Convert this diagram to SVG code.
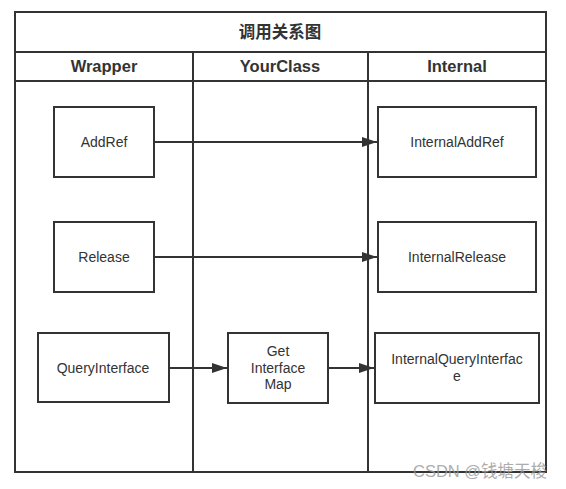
<svg xmlns="http://www.w3.org/2000/svg" width="566" height="489" viewBox="0 0 566 489">
<style>
.ln{stroke:#333;stroke-width:2;fill:none}
.box{stroke:#333;stroke-width:2;fill:#fff}
.hd{font-family:"Liberation Sans",Arial,sans-serif;font-weight:bold;font-size:16.5px;fill:#333;text-anchor:middle}
.tt{font-family:"Noto Sans CJK SC",sans-serif;font-weight:bold;font-size:16.5px;fill:#333;text-anchor:middle}
.lb{font-family:"Liberation Sans",Arial,sans-serif;font-size:14px;fill:#333;text-anchor:middle}
.wm{font-family:"Liberation Sans","Noto Sans CJK SC",sans-serif;font-size:16.5px;fill:#999;opacity:0.8}
</style>
<defs>
<marker id="ah" markerWidth="15" markerHeight="10" refX="15" refY="5" orient="auto" markerUnits="userSpaceOnUse">
<path d="M0,0 L15,5 L0,10 Z" fill="#333"/>
</marker>
</defs>
<rect x="0" y="0" width="566" height="489" fill="#fff"/>
<g id="pool">
<rect class="ln" x="15" y="12" width="531" height="460"/>
<line class="ln" x1="15" y1="52" x2="546" y2="52"/>
<line class="ln" x1="15" y1="81" x2="546" y2="81"/>
<line class="ln" x1="193" y1="52" x2="193" y2="472"/>
<line class="ln" x1="368" y1="52" x2="368" y2="472"/>
<text class="tt" x="280" y="38">调用关系图</text>
<text class="hd" x="104" y="72">Wrapper</text>
<text class="hd" x="280" y="72">YourClass</text>
<text class="hd" x="457" y="72">Internal</text>
</g>
<g id="connectors">
<line class="ln" x1="154" y1="142" x2="377" y2="142" marker-end="url(#ah)"/>
<line class="ln" x1="154" y1="257" x2="377" y2="257" marker-end="url(#ah)"/>
<line class="ln" x1="169" y1="368" x2="227" y2="368" marker-end="url(#ah)"/>
<line class="ln" x1="328" y1="368" x2="374" y2="368" marker-end="url(#ah)"/>
</g>
<g id="addref"><rect class="box" x="54" y="107" width="100" height="70"/><text class="lb" x="104" y="147">AddRef</text></g>
<g id="release"><rect class="box" x="54" y="222" width="100" height="70"/><text class="lb" x="104" y="262">Release</text></g>
<g id="queryinterface"><rect class="box" x="38" y="333" width="131" height="69"/><text class="lb" x="103" y="373">QueryInterface</text></g>
<g id="getinterfacemap"><rect class="box" x="228" y="333" width="100" height="70"/><text class="lb" x="278" y="356">Get</text><text class="lb" x="278" y="372.5">Interface</text><text class="lb" x="278" y="389">Map</text></g>
<g id="internaladdref"><rect class="box" x="378" y="107" width="158" height="70"/><text class="lb" x="457" y="147">InternalAddRef</text></g>
<g id="internalrelease"><rect class="box" x="378" y="222" width="158" height="70"/><text class="lb" x="457" y="262">InternalRelease</text></g>
<g id="internalqueryinterface"><rect class="box" x="375" y="333" width="164" height="70"/><text class="lb" x="457" y="364">InternalQueryInterfac</text><text class="lb" x="457" y="380.5">e</text></g>
<text class="wm" x="413" y="477">CSDN @钱塘天梭</text>
</svg>
